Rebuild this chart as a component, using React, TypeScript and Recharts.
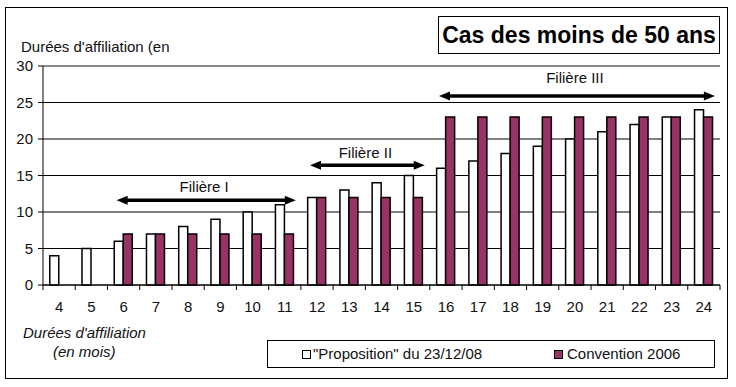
import React from 'react';
import { BarChart, Bar, XAxis, YAxis, CartesianGrid, ReferenceLine, Legend } from 'recharts';

const categories = ['4', '5', '6', '7', '8', '9', '10', '11', '12', '13', '14', '15', '16', '17', '18', '19', '20', '21', '22', '23', '24'];
const propositionValues = [4, 5, 6, 7, 8, 9, 10, 11, 12, 13, 14, 15, 16, 17, 18, 19, 20, 21, 22, 23, 24];
const conventionValues: (number | null)[] = [null, null, 7, 7, 7, 7, 7, 7, 12, 12, 12, 12, 23, 23, 23, 23, 23, 23, 23, 23, 23];
const yTicks = [0, 5, 10, 15, 20, 25, 30];

const filiereLabels = ['Filière I', 'Filière II', 'Filière III'];
const filiereFrom = ['6', '12', '16'];
const filiereTo = ['11', '15', '24'];
const filiereLevel = [11.6, 16.4, 25.9];
const filiereLabelLift = [8, 7, 13];

const seriesNames = ['"Proposition" du 23/12/08', 'Convention 2006'];
const titleText = 'Cas des moins de 50 ans';
const yAxisTitle = "Durées d'affiliation (en";
const xAxisTitle1 = "Durées d'affiliation";
const xAxisTitle2 = '(en mois)';

const data = categories.map((c, i) => ({
  cat: c,
  proposition: propositionValues[i],
  convention: conventionValues[i],
}));

const FONT = '"Liberation Sans", Arial, sans-serif';
const PURPLE = '#993366';
const W = 736;
const H = 387;
const PLOT_LEFT = 43;
const PLOT_RIGHT = 720;
const HALF = (PLOT_RIGHT - PLOT_LEFT) / categories.length / 2;

const XTick = (props: any) => {
  const { x, y, payload, index } = props;
  return (
    <g>
      <line x1={x + HALF} y1={y} x2={x + HALF} y2={y + 5} stroke="#000" strokeWidth={1} />
      {index === 0 && <line x1={x - HALF} y1={y} x2={x - HALF} y2={y + 5} stroke="#000" strokeWidth={1} />}
      <text x={x} y={y + 27} textAnchor="middle" fontSize={15} fill="#111" fontFamily={FONT}>
        {payload.value}
      </text>
    </g>
  );
};

const makeArrow = (label: string, lift: number) => (p: any) => {
  const { x1, y1, x2 } = p;
  const a = x1 - 7;
  const b = x2 + 11;
  const y = y1;
  const head = 11;
  const hw = 4.5;
  return (
    <g>
      <line x1={a + head - 1} y1={y} x2={b - head + 1} y2={y} stroke="#000" strokeWidth={3.5} />
      <polygon points={`${a},${y} ${a + head},${y - hw} ${a + head},${y + hw}`} fill="#000" />
      <polygon points={`${b},${y} ${b - head},${y - hw} ${b - head},${y + hw}`} fill="#000" />
      <text x={(a + b) / 2 - 2} y={y - lift} textAnchor="middle" fontSize={15} fill="#111" fontFamily={FONT}>
        {label}
      </text>
    </g>
  );
};

const LegendBox = () => (
  <div
    style={{
      position: 'relative',
      width: 448,
      height: 28,
      border: '1px solid #000',
      boxSizing: 'border-box',
      background: '#fff',
      fontFamily: FONT,
      fontSize: 15,
      color: '#111',
    }}
  >
    <div style={{ position: 'absolute', left: 34, top: 9, width: 9, height: 9, border: '1.5px solid #000', boxSizing: 'border-box', background: '#fff' }} />
    <div style={{ position: 'absolute', left: 45, top: 4, lineHeight: '17px', whiteSpace: 'nowrap' }}>{seriesNames[0]}</div>
    <div style={{ position: 'absolute', left: 286, top: 9, width: 9, height: 9, border: '1px solid #000', boxSizing: 'border-box', background: PURPLE }} />
    <div style={{ position: 'absolute', left: 299, top: 4, lineHeight: '17px', whiteSpace: 'nowrap' }}>{seriesNames[1]}</div>
  </div>
);

export default function App() {
  return (
    <div style={{ position: 'absolute', left: 0, top: 0, width: W, height: H, background: '#fff', fontFamily: FONT }}>
      <div style={{ position: 'absolute', left: 5, top: 7, width: 723, height: 372, border: '1px solid #000', boxSizing: 'border-box' }} />
      <div
        style={{
          position: 'absolute',
          left: 438,
          top: 16,
          width: 282,
          height: 38,
          border: '1px solid #000',
          boxSizing: 'border-box',
          fontWeight: 'bold',
          fontSize: 23,
          lineHeight: '36px',
          textAlign: 'center',
          whiteSpace: 'nowrap',
          color: '#000',
        }}
      >
        {titleText}
      </div>
      <div style={{ position: 'absolute', left: 21, top: 38, fontSize: 15, lineHeight: '17px', color: '#111', whiteSpace: 'nowrap' }}>{yAxisTitle}</div>
      <div style={{ position: 'absolute', left: 23, top: 324, fontSize: 15, lineHeight: '17px', fontStyle: 'italic', color: '#111', whiteSpace: 'nowrap' }}>{xAxisTitle1}</div>
      <div style={{ position: 'absolute', left: 53, top: 343, fontSize: 15, lineHeight: '17px', fontStyle: 'italic', color: '#111', whiteSpace: 'nowrap' }}>{xAxisTitle2}</div>
      <div style={{ position: 'absolute', left: 0, top: 0 }}>
        <BarChart
          width={W}
          height={H}
          data={data}
          margin={{ top: 66, right: W - PLOT_RIGHT, bottom: 72, left: 0 }}
          barCategoryGap="21%"
          barGap={0}
        >
          <CartesianGrid horizontal vertical={false} stroke="#000" strokeWidth={1} />
          <XAxis
            dataKey="cat"
            interval={0}
            height={30}
            tickLine={false}
            tickSize={0}
            tickMargin={0}
            axisLine={{ stroke: '#000', strokeWidth: 1 }}
            tick={<XTick />}
          />
          <YAxis
            domain={[0, 30]}
            ticks={yTicks}
            width={PLOT_LEFT}
            tickSize={5}
            tickMargin={5}
            axisLine={{ stroke: '#000', strokeWidth: 1 }}
            tickLine={{ stroke: '#000' }}
            tick={{ fontSize: 15, fill: '#111', fontFamily: FONT }}
            interval={0}
          />
          <YAxis
            yAxisId="r"
            orientation="right"
            width={0}
            domain={[0, 30]}
            tick={false}
            tickLine={false}
            axisLine={{ stroke: '#8c8c8c', strokeWidth: 1.5 }}
          />
          <ReferenceLine y={30} stroke="#8c8c8c" strokeWidth={1.5} />
          <Bar dataKey="proposition" name={seriesNames[0]} fill="#fff" stroke="#000" strokeWidth={1.5} isAnimationActive={false} />
          <Bar dataKey="convention" name={seriesNames[1]} fill={PURPLE} stroke="#000" strokeWidth={1.5} isAnimationActive={false} />
          {filiereLabels.map((lab, i) => (
            <ReferenceLine
              key={lab}
              segment={[
                { x: filiereFrom[i], y: filiereLevel[i] },
                { x: filiereTo[i], y: filiereLevel[i] },
              ]}
              ifOverflow="visible"
              shape={makeArrow(lab, filiereLabelLift[i])}
            />
          ))}
          <Legend
            layout="vertical"
            align="center"
            verticalAlign="middle"
            wrapperStyle={{ left: 267, top: 340, width: 448, height: 28 }}
            content={() => <LegendBox />}
          />
        </BarChart>
      </div>
    </div>
  );
}
